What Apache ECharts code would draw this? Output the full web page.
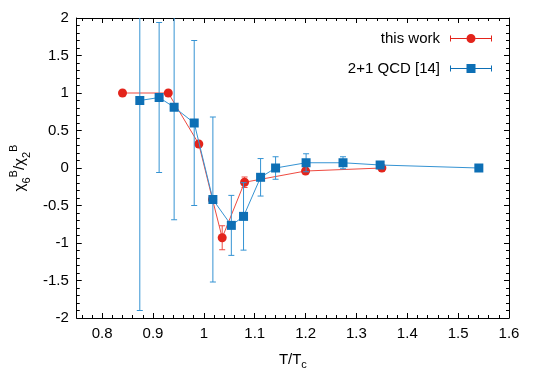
<!DOCTYPE html>
<html>
<head>
<meta charset="utf-8">
<script src="https://cdn.jsdelivr.net/npm/echarts@6/dist/echarts.min.js"></script>
<style>
  html, body { margin: 0; padding: 0; background: #fff; }
  #chart { width: 545px; height: 382px; }
</style>
</head>
<body>
<div id="chart"></div>
<script>
// this work
const redT = [0.84, 0.93, 0.99, 1.017, 1.036, 1.08, 1.2, 1.35];
const redRatio = [1.0, 1.0, 0.32, -0.42, -0.93, -0.19, -0.04, 0.0];
const redErr = [0, 0, 0, 0, 0.16, 0.07, 0.02, 0.02];

// 2+1 QCD [14]
const blueT = [0.874, 0.912, 0.9415, 0.981, 1.0177, 1.054, 1.078, 1.1115, 1.141, 1.201, 1.2736, 1.3466, 1.5407];
const blueRatio = [0.9, 0.94, 0.81, 0.6, -0.42, -0.765, -0.645, -0.124, 0.0, 0.07, 0.07, 0.04, 0.0];
const blueErr = [2.8, 1.0, 1.5, 1.1, 1.1, 0.4, 0.45, 0.25, 0.15, 0.12, 0.08, 0.02, 0];

const seriesNames = ["this work", "2+1 QCD [14]"];

const font = "'Liberation Sans', Arial, sans-serif";
const red = "#e3241b", redLine = "#ef4a40";
const blue = "#0d6fb5", blueLine = "#3593d3";

// legend icons: errorbar line with caps and the marker in the middle
const capsAndLine = "M0,3 h1 v6 h-1 Z M41,3 h1 v6 h-1 Z M0,5.5 h16.5 v1 h-16.5 Z M25.5,5.5 h16.5 v1 h-16.5 Z ";
const redIcon = "path://" + capsAndLine + "M16.5,6 A4.5,4.5 0 1,1 25.5,6 A4.5,4.5 0 1,1 16.5,6 Z";
const blueIcon = "path://" + capsAndLine + "M16.5,1.5 h9 v9 h-9 Z";

function zip(xs, ys, es) {
  return xs.map((x, i) => es ? [x, ys[i], es[i]] : [x, ys[i]]);
}

function errorBars(color) {
  return function (params, api) {
    const x = api.value(0), y = api.value(1), e = api.value(2);
    if (!e) return;
    const lo = api.coord([x, y - e]);
    const hi = api.coord([x, y + e]);
    const w = 3;
    const st = { stroke: color, lineWidth: 1 };
    return {
      type: "group",
      children: [
        { type: "line", shape: { x1: lo[0], y1: lo[1], x2: hi[0], y2: hi[1] }, style: st },
        { type: "line", shape: { x1: lo[0] - w, y1: lo[1], x2: lo[0] + w, y2: lo[1] }, style: st },
        { type: "line", shape: { x1: hi[0] - w, y1: hi[1], x2: hi[0] + w, y2: hi[1] }, style: st },
      ],
    };
  };
}

const axisCommon = {
  axisLine: { show: true, onZero: false, lineStyle: { color: "#000", width: 1 } },
  axisTick: { show: true, inside: true, length: 5, lineStyle: { color: "#000" } },
  minorTick: { show: true, splitNumber: 5, length: 3, lineStyle: { color: "#000" } },
  splitLine: { show: false },
};

const chart = echarts.init(document.getElementById("chart"));
chart.setOption({
  animation: false,
  backgroundColor: "#fff",
  grid: { left: 74, right: 36, top: 18, bottom: 64 },
  legend: {
    orient: "vertical",
    right: 48,
    top: 26,
    align: "right",
    itemWidth: 42,
    itemHeight: 9,
    itemGap: 15,
    symbolKeepAspect: false,
    textStyle: { fontFamily: font, fontSize: 15, color: "#000", padding: [0, 5, 0, 0] },
    data: [
      { name: seriesNames[0], icon: redIcon },
      { name: seriesNames[1], icon: blueIcon },
    ],
  },
  xAxis: [
    {
      type: "value",
      min: 0.75,
      max: 1.6,
      splitNumber: 8,
      ...axisCommon,
      axisLabel: {
        showMinLabel: false,
        fontFamily: font, fontSize: 15, color: "#000", margin: 8,
      },
      name: "T/T{s|c}",
      nameLocation: "middle",
      nameGap: 32,
      nameTextStyle: {
        fontFamily: font, fontSize: 15, color: "#000",
        rich: { s: { fontFamily: font, fontSize: 11, verticalAlign: "bottom", lineHeight: 20 } },
      },
    },
    {
      type: "value",
      position: "top",
      min: 0.75,
      max: 1.6,
      splitNumber: 8,
      ...axisCommon,
      axisLabel: { show: false },
    },
  ],
  yAxis: [
    {
      type: "value",
      min: -2,
      max: 2,
      interval: 0.5,
      ...axisCommon,
      axisLabel: { fontFamily: font, fontSize: 15, color: "#000", margin: 8 },
      name: "{a|χ}{b|6}{c|B}{a|/χ}{b|2}{c|B}",
      nameLocation: "middle",
      nameGap: 42,
      nameTextStyle: {
        fontFamily: font, fontSize: 15, color: "#000",
        rich: {
          a: { fontFamily: font, fontSize: 15, lineHeight: 24, verticalAlign: "middle" },
          b: { fontFamily: font, fontSize: 11, lineHeight: 24, verticalAlign: "bottom" },
          c: { fontFamily: font, fontSize: 11, lineHeight: 24, verticalAlign: "top" },
        },
      },
    },
    {
      type: "value",
      position: "right",
      min: -2,
      max: 2,
      interval: 0.5,
      ...axisCommon,
      axisLabel: { show: false },
    },
  ],
  series: [
    {
      name: "redErr",
      type: "custom",
      clip: true,
      renderItem: errorBars(redLine),
      data: zip(redT, redRatio, redErr),
      z: 2,
    },
    {
      name: seriesNames[0],
      type: "line",
      data: zip(redT, redRatio),
      symbol: "circle",
      symbolSize: 9,
      itemStyle: { color: red },
      lineStyle: { color: redLine, width: 1 },
      z: 3,
    },
    {
      name: "blueErr",
      type: "custom",
      clip: true,
      renderItem: errorBars(blueLine),
      data: zip(blueT, blueRatio, blueErr),
      z: 4,
    },
    {
      name: seriesNames[1],
      type: "line",
      data: zip(blueT, blueRatio),
      symbol: "rect",
      symbolSize: 9,
      itemStyle: { color: blue },
      lineStyle: { color: blueLine, width: 1 },
      z: 5,
    },
  ],
});
</script>
</body>
</html>
